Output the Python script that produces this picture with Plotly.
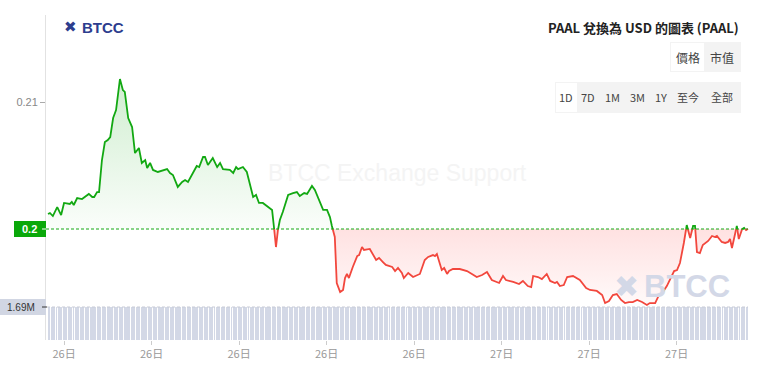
import plotly.graph_objects as go
from datetime import datetime, timedelta

# ---------------- data ----------------
start = datetime(2024, 11, 26, 8, 27)

minutes = [
    0, 4, 10, 19, 27, 33, 45, 49, 53, 60, 70, 80, 84, 91, 95, 101, 105, 111, 117, 123,
    128, 134, 140, 148, 154, 158, 165, 173, 179, 187, 193, 200, 204, 210, 216, 226, 245, 251, 257, 267,
    276, 282, 288, 306, 311, 319, 323, 329, 339, 348, 354, 360, 374, 381, 387, 391, 401, 409, 416, 422,
    428, 434, 442, 453, 461, 465, 469, 473, 477, 483, 494, 504, 512, 518, 527, 533, 543, 549, 555, 566,
    574, 580, 584, 590, 594, 601, 607, 611, 615, 619, 627, 636, 640, 646, 650, 662, 675, 681, 689, 695,
    708, 714, 720, 728, 732, 741, 751, 765, 775, 782, 792, 796, 800, 810, 815, 821, 825, 833, 847, 862,
    872, 882, 893, 903, 913, 924, 928, 936, 942, 957, 969, 977, 987, 994, 998, 1008, 1016, 1026, 1033, 1043,
    1047, 1053, 1061, 1068, 1080, 1094, 1107, 1115, 1129, 1140, 1146, 1154, 1162, 1170, 1179, 1187, 1195, 1203, 1212, 1222,
    1232, 1238, 1249, 1255, 1265, 1273, 1284, 1288, 1294, 1300, 1308, 1314, 1321, 1327, 1331, 1335, 1341, 1347, 1358, 1366,
    1372, 1376, 1386, 1393, 1399, 1403, 1407, 1417, 1421, 1428, 1432, 1436, 1440,
]

price = [
    0.20118, 0.20126, 0.20102, 0.20173, 0.20110, 0.20205, 0.20197, 0.20213, 0.20189, 0.20244,
    0.20236, 0.20268, 0.20276, 0.20252, 0.20252, 0.20291, 0.20291, 0.20543, 0.20685, 0.20701,
    0.20724, 0.20874, 0.20937, 0.21181, 0.21094, 0.21079, 0.20874, 0.20803, 0.20598, 0.20638,
    0.20520, 0.20543, 0.20480, 0.20520, 0.20465, 0.20449, 0.20472, 0.20441, 0.20425, 0.20331,
    0.20370, 0.20386, 0.20370, 0.20496, 0.20488, 0.20567, 0.20567, 0.20504, 0.20559, 0.20488,
    0.20520, 0.20472, 0.20465, 0.20441, 0.20488, 0.20472, 0.20488, 0.20449, 0.20346, 0.20252,
    0.20268, 0.20205, 0.20205, 0.20173, 0.20150, 0.20008, 0.19858, 0.19992, 0.20071, 0.20134,
    0.20268, 0.20283, 0.20291, 0.20260, 0.20283, 0.20276, 0.20339, 0.20307, 0.20252, 0.20150,
    0.20150, 0.20094, 0.20024, 0.19937, 0.19575, 0.19504, 0.19520, 0.19614, 0.19646, 0.19614,
    0.19701, 0.19787, 0.19795, 0.19858, 0.19835, 0.19843, 0.19756, 0.19772, 0.19740, 0.19717,
    0.19701, 0.19669, 0.19693, 0.19654, 0.19614, 0.19654, 0.19622, 0.19646, 0.19756, 0.19780,
    0.19795, 0.19787, 0.19803, 0.19677, 0.19693, 0.19646, 0.19669, 0.19685, 0.19685, 0.19669,
    0.19646, 0.19622, 0.19638, 0.19661, 0.19598, 0.19583, 0.19575, 0.19630, 0.19598, 0.19583,
    0.19567, 0.19591, 0.19551, 0.19543, 0.19630, 0.19622, 0.19606, 0.19646, 0.19591, 0.19575,
    0.19583, 0.19551, 0.19559, 0.19622, 0.19630, 0.19598, 0.19535, 0.19520, 0.19512, 0.19480,
    0.19417, 0.19433, 0.19480, 0.19488, 0.19441, 0.19417, 0.19425, 0.19425, 0.19441, 0.19425,
    0.19402, 0.19417, 0.19417, 0.19465, 0.19504, 0.19551, 0.19638, 0.19669, 0.19677, 0.19732,
    0.19890, 0.20031, 0.19929, 0.20024, 0.20024, 0.19819, 0.19811, 0.19874, 0.19906, 0.19945,
    0.19937, 0.19945, 0.19898, 0.19890, 0.19898, 0.19921, 0.19850, 0.20024, 0.19921, 0.20000,
    0.20008, 0.19992, 0.20000,
]

last_price = 0.20
price_ticks = [0.20, 0.21]
price_tick_labels = ["0.2", "0.21"]

tick_times = ["2024-11-26 09:00", "2024-11-26 12:00", "2024-11-26 15:00", "2024-11-26 18:00",
              "2024-11-26 21:00", "2024-11-27 00:00", "2024-11-27 03:00", "2024-11-27 06:00"]
tick_labels = ["26日", "26日", "26日", "26日", "26日", "27日", "27日", "27日"]

vol_interval_min = 5
volume_m = [
    1.69, 1.69, 1.69, 1.69, 1.69, 1.69, 1.69, 1.69, 1.69, 1.69, 1.69, 1.69, 1.69, 1.69, 1.69, 1.69, 1.69, 1.69, 1.69, 1.69, 1.69, 1.69, 1.69, 1.69,
    1.69, 1.69, 1.69, 1.69, 1.69, 1.69, 1.69, 1.69, 1.69, 1.69, 1.69, 1.69, 1.69, 1.69, 1.69, 1.69, 1.69, 1.69, 1.69, 1.69, 1.69, 1.69, 1.69, 1.69,
    1.69, 1.69, 1.69, 1.69, 1.69, 1.69, 1.69, 1.69, 1.69, 1.69, 1.69, 1.69, 1.69, 1.69, 1.69, 1.69, 1.69, 1.69, 1.69, 1.69, 1.69, 1.69, 1.69, 1.69,
    1.69, 1.69, 1.69, 1.69, 1.69, 1.69, 1.69, 1.69, 1.69, 1.69, 1.69, 1.69, 1.69, 1.69, 1.69, 1.69, 1.69, 1.69, 1.69, 1.69, 1.69, 1.69, 1.69, 1.69,
    1.69, 1.69, 1.69, 1.69, 1.69, 1.69, 1.69, 1.69, 1.69, 1.69, 1.69, 1.69, 1.69, 1.69, 1.69, 1.69, 1.69, 1.69, 1.69, 1.69, 1.69, 1.69, 1.69, 1.69,
    1.69, 1.69, 1.69, 1.69, 1.69, 1.69, 1.69, 1.69, 1.69, 1.69, 1.69, 1.69, 1.69, 1.69, 1.69, 1.69, 1.69, 1.69, 1.69, 1.69, 1.69, 1.69, 1.69, 1.69,
    1.69, 1.69, 1.69, 1.69, 1.69, 1.69, 1.69, 1.69, 1.69, 1.69, 1.69, 1.69, 1.69, 1.69, 1.69, 1.69, 1.69, 1.69, 1.69, 1.69, 1.69, 1.69, 1.69, 1.69,
    1.69, 1.69, 1.69, 1.69, 1.69, 1.69, 1.69, 1.69, 1.69, 1.69, 1.69, 1.69, 1.69, 1.69, 1.69, 1.69, 1.69, 1.69, 1.69, 1.69, 1.69, 1.69, 1.69, 1.69,
    1.69, 1.69, 1.69, 1.69, 1.69, 1.69, 1.69, 1.69, 1.69, 1.69, 1.69, 1.69, 1.69, 1.69, 1.69, 1.69, 1.69, 1.69, 1.69, 1.69, 1.69, 1.69, 1.69, 1.69,
    1.69, 1.69, 1.69, 1.69, 1.69, 1.69, 1.69, 1.69, 1.69, 1.69, 1.69, 1.69, 1.69, 1.69, 1.69, 1.69, 1.69, 1.69, 1.69, 1.69, 1.69, 1.69, 1.69, 1.69,
    1.69, 1.69, 1.69, 1.69, 1.69, 1.69, 1.69, 1.69, 1.69, 1.69, 1.69, 1.69, 1.69, 1.69, 1.69, 1.69, 1.69, 1.69, 1.69, 1.69, 1.69, 1.69, 1.69, 1.69,
    1.69, 1.69, 1.69, 1.69, 1.69, 1.69, 1.69, 1.69, 1.69, 1.69, 1.69, 1.69, 1.69, 1.69, 1.69, 1.69, 1.69, 1.69, 1.69, 1.69, 1.69, 1.69, 1.69, 1.69,
]
vol_label = "1.69M"
vol_label_value = 1.69e6

title_text = "PAAL 兌換為 USD 的圖表 (PAAL)"
buttons_1 = ["價格", "市值"]
buttons_2 = ["1D", "7D", "1M", "3M", "1Y", "至今", "全部"]

# ---------------- styling ----------------
GREEN = "#12a812"
RED = "#f2473d"
FONT = "Liberation Sans, Noto Sans CJK TC, sans-serif"
CJK = "Noto Sans CJK TC, Liberation Sans, sans-serif"

W, H = 762, 376
L, R, T, B = 46, 12, 15, 36
pw, ph = W - L - R, H - T - B


def px(x):
    return (x - L) / pw


def py(y):
    return (H - B - y) / ph


# insert crossing points at the last-price baseline so colours split exactly there
t_ref, v_ref = [], []
for i in range(len(minutes)):
    if i > 0:
        m0, p0 = minutes[i - 1], price[i - 1]
        m1, p1 = minutes[i], price[i]
        if (p0 - last_price) * (p1 - last_price) < 0:
            f = (last_price - p0) / (p1 - p0)
            t_ref.append(m0 + f * (m1 - m0))
            v_ref.append(last_price)
    t_ref.append(minutes[i])
    v_ref.append(price[i])

xs = [start + timedelta(minutes=m) for m in t_ref]
base = [last_price] * len(xs)
upper = [max(v, last_price) for v in v_ref]
lower = [min(v, last_price) for v in v_ref]
green_line = [v if v >= last_price else None for v in v_ref]
red_line = [v if v <= last_price else None for v in v_ref]

vol_x = [start + timedelta(minutes=vol_interval_min * i + vol_interval_min / 2) for i in range(len(volume_m))]
vol_y = [v * 1e6 for v in volume_m]

fig = go.Figure()

fig.add_trace(go.Bar(x=vol_x, y=vol_y, yaxis="y2", marker=dict(color="#d3d8e6", line=dict(width=0)),
                     width=vol_interval_min * 60 * 1000 * 0.40, hoverinfo="skip", showlegend=False))

fig.add_trace(go.Scatter(x=xs, y=base, mode="lines", line=dict(width=0), hoverinfo="skip", showlegend=False))
fig.add_trace(go.Scatter(x=xs, y=upper, mode="lines", line=dict(width=0), fill="tonexty",
                         fillgradient=dict(type="vertical",
                                           colorscale=[[0, "rgba(20,170,20,0.02)"], [1, "rgba(20,170,20,0.20)"]]),
                         hoverinfo="skip", showlegend=False))
fig.add_trace(go.Scatter(x=xs, y=base, mode="lines", line=dict(width=0), hoverinfo="skip", showlegend=False))
fig.add_trace(go.Scatter(x=xs, y=lower, mode="lines", line=dict(width=0), fill="tonexty",
                         fillgradient=dict(type="vertical",
                                           colorscale=[[0, "rgba(255,80,80,0.03)"], [1, "rgba(255,80,80,0.17)"]]),
                         hoverinfo="skip", showlegend=False))
fig.add_trace(go.Scatter(x=xs, y=red_line, mode="lines", line=dict(color=RED, width=1.8),
                         connectgaps=False, hoverinfo="skip", showlegend=False))
fig.add_trace(go.Scatter(x=xs, y=green_line, mode="lines", line=dict(color=GREEN, width=1.8),
                         connectgaps=False, hoverinfo="skip", showlegend=False))

y_lo = last_price - (H - B - 229) / 12700
y_hi = last_price + (229 - T) / 12700
vol_top = vol_label_value * ph / (H - B - 307)

shapes = []
annotations = []

# last price dashed line
shapes.append(dict(type="line", xref="paper", yref="y", x0=0, x1=px(748), y0=last_price, y1=last_price,
                   line=dict(color=GREEN, width=1, dash="3px,2px")))
# volume level dashed line
shapes.append(dict(type="line", xref="paper", yref="y2", x0=px(47), x1=px(748), y0=vol_label_value,
                   y1=vol_label_value, line=dict(color="#c8cbd6", width=1, dash="3px,2px")))

# price label box
shapes.append(dict(type="rect", xref="paper", yref="paper", x0=px(14), x1=px(46), y0=py(237), y1=py(221),
                   fillcolor="#0aa80a", line=dict(width=0), layer="above"))
shapes.append(dict(type="line", xref="paper", yref="paper", x0=px(42), x1=px(46), y0=py(229), y1=py(229),
                   line=dict(color="white", width=1), layer="above"))
annotations.append(dict(x=px(29), y=py(229), xref="paper", yref="paper", text="<b>0.2</b>", showarrow=False,
                        font=dict(family=FONT, size=11, color="white"), xanchor="center", yanchor="middle"))

# volume label box
shapes.append(dict(type="rect", xref="paper", yref="paper", x0=px(0), x1=px(46), y0=py(315), y1=py(299),
                   fillcolor="#d1d6e3", line=dict(width=0), layer="above"))
shapes.append(dict(type="line", xref="paper", yref="paper", x0=px(42), x1=px(47), y0=py(307), y1=py(307),
                   line=dict(color="#333", width=1), layer="above"))
annotations.append(dict(x=px(21), y=py(307), xref="paper", yref="paper", text=vol_label, showarrow=False,
                        font=dict(family=FONT, size=10, color="#333"), xanchor="center", yanchor="middle"))

# watermarks
annotations.append(dict(x=px(397), y=py(173), xref="paper", yref="paper", text="BTCC Exchange Support",
                        showarrow=False, font=dict(family=FONT, size=23, color="#f4f4f4"),
                        xanchor="center", yanchor="middle"))
annotations.append(dict(x=px(626), y=py(286), xref="paper", yref="paper", text="✖", showarrow=False,
                        font=dict(family="DejaVu Sans", size=30, color="#d3d8e7"), xanchor="center",
                        yanchor="middle"))
annotations.append(dict(x=px(642), y=py(286), xref="paper", yref="paper", text="<b>BTCC</b>", showarrow=False,
                        font=dict(family=FONT, size=31, color="#d3d8e7"), xanchor="left", yanchor="middle"))

# top-left logo
annotations.append(dict(x=px(70), y=py(27), xref="paper", yref="paper", text="✖", showarrow=False,
                        font=dict(family="DejaVu Sans", size=15, color="#2d3d8e"), xanchor="center",
                        yanchor="middle"))
annotations.append(dict(x=px(80), y=py(27), xref="paper", yref="paper", text="<b>BTCC</b>", showarrow=False,
                        font=dict(family=FONT, size=15, color="#2d3d8e"), xanchor="left", yanchor="middle"))

# title
annotations.append(dict(x=px(741), y=py(27), xref="paper", yref="paper", text=title_text, showarrow=False,
                        font=dict(family=CJK, size=13, color="#222", weight=600), xanchor="right",
                        yanchor="middle"))

# button group 1
shapes.append(dict(type="rect", xref="paper", yref="paper", x0=px(670), x1=px(741), y0=py(72), y1=py(42),
                   fillcolor="#f3f3f3", line=dict(width=0)))
shapes.append(dict(type="rect", xref="paper", yref="paper", x0=px(671), x1=px(704), y0=py(71), y1=py(43),
                   fillcolor="white", line=dict(width=0)))
for lab, cx in zip(buttons_1, [688, 722]):
    annotations.append(dict(x=px(cx), y=py(57), xref="paper", yref="paper", text=lab, showarrow=False,
                            font=dict(family=CJK, size=12, color="#444"), xanchor="center", yanchor="middle"))

# button group 2
shapes.append(dict(type="rect", xref="paper", yref="paper", x0=px(555), x1=px(741), y0=py(113), y1=py(82),
                   fillcolor="#f3f3f3", line=dict(width=0)))
shapes.append(dict(type="rect", xref="paper", yref="paper", x0=px(556), x1=px(577), y0=py(112), y1=py(83),
                   fillcolor="white", line=dict(width=0)))
for lab, cx in zip(buttons_2, [566, 588, 612, 637, 661, 688, 722]):
    annotations.append(dict(x=px(cx), y=py(97), xref="paper", yref="paper", text=lab, showarrow=False,
                            font=dict(family=CJK, size=11, color="#444"), xanchor="center", yanchor="middle"))

fig.update_layout(
    width=W, height=H,
    margin=dict(l=L, r=R, t=T, b=B, autoexpand=False),
    paper_bgcolor="white", plot_bgcolor="white",
    showlegend=False,
    bargap=0,
    xaxis=dict(type="date",
               range=[start - timedelta(minutes=4.1), start + timedelta(minutes=1444.1)],
               tickvals=tick_times, ticktext=tick_labels,
               ticks="outside", ticklen=4, tickcolor="#cccccc",
               tickfont=dict(family=CJK, size=11, color="#999"),
               showgrid=False, showline=False, zeroline=False),
    yaxis=dict(range=[y_lo, y_hi], tickvals=price_ticks, ticktext=price_tick_labels,
               ticks="outside", ticklen=5, tickcolor="#aaaaaa",
               tickfont=dict(family=FONT, size=11, color="#888"),
               showline=True, linecolor="#e2e2e2", linewidth=1,
               showgrid=False, zeroline=False),
    yaxis2=dict(overlaying="y", range=[0, vol_top], visible=False, showgrid=False, zeroline=False),
    shapes=shapes,
    annotations=annotations,
)

fig.write_html("out.html", config={"displayModeBar": False},
               post_script="document.body.style.margin='0';document.body.style.padding='0';")
